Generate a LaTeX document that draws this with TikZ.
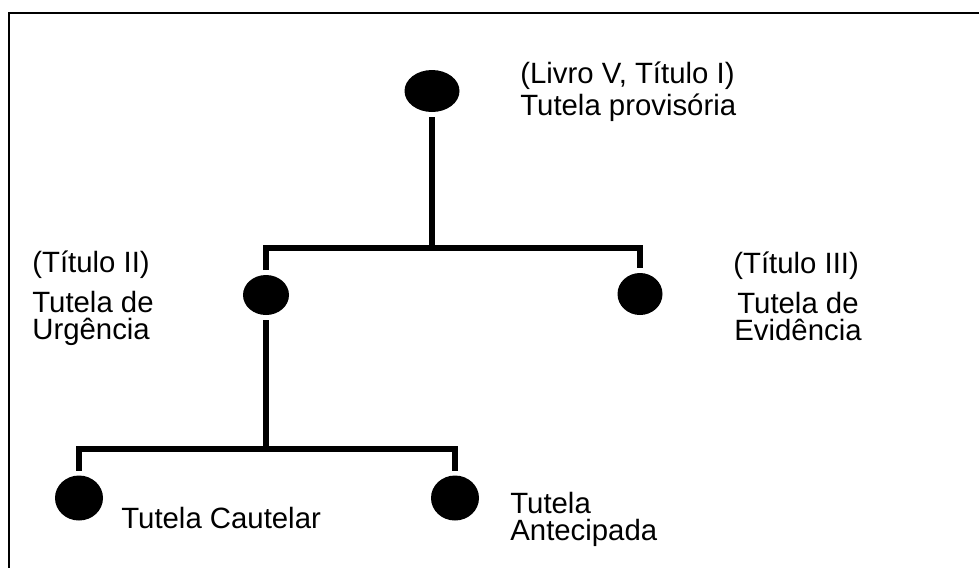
\documentclass[tikz,border=0pt]{standalone}
\usepackage{fontspec}
\setmainfont{Liberation Sans}
\usetikzlibrary{shapes.geometric}

\begin{document}
\begin{tikzpicture}[
    blob/.style={ellipse, fill=black, inner sep=0pt, outer sep=0.1cm, minimum width=0.96cm, minimum height=0.9cm},
    link/.style={line width=3.2pt},
    lbl/.style={anchor=base west, inner sep=0pt, align=left, font=\fontsize{16.7}{15.3}\selectfont}
]
%% The picture size is fixed here, so the page keeps the same proportions.
    \useasboundingbox (0,0) rectangle (19.58,-11.36);
%% Only the top and the left edge of the frame are drawn.
    \draw[line width=1.3pt] (19.58,-0.26) -- (0.18,-0.26) -- (0.18,-11.36);
%% The black dots of the tree.
    \node[blob, minimum width=1.1cm, minimum height=0.84cm] (prov) at (8.64,-1.82) {};
    \node[blob, minimum width=0.92cm, minimum height=0.8cm] (urg) at (5.32,-5.9) {};
    \node[blob, minimum width=0.9cm, minimum height=0.84cm] (evi) at (12.8,-5.88) {};
    \node[blob] (caut) at (1.58,-9.96) {};
    \node[blob] (ante) at (9.1,-9.96) {};
%% Where the branches split.
    \coordinate (split1) at (8.64,-4.96);
    \coordinate (split2) at (5.32,-8.98);
%% The branches.
    \draw[link] (prov.south) -- (prov.south |- split1);
    \draw[link] (urg.north) -- (urg.north |- split1) -- (evi.north |- split1) -- (evi.north);
    \draw[link] (urg.south) -- (urg.south |- split2);
    \draw[link] (caut.north) -- (caut.north |- split2) -- (ante.north |- split2) -- (ante.north);
%% The labels (for two lines the base is the last line).
    \node[lbl] (provhead) at (10.4,-1.66) {(Livro V, Título I)};
    \node[lbl] (provtext) at (10.4,-2.3) {Tutela provisória};
    \node[lbl] (urghead) at (0.64,-5.44) {(Título II)};
    \node[lbl] (urgtext) at (0.64,-6.78) {Tutela de\\Urgência};
    \node[lbl] (evihead) at (14.66,-5.46) {(Título III)};
    \node[lbl, align=center] (evitext) at (14.68,-6.8) {Tutela de\\Evidência};
    \node[lbl] (cauttext) at (2.42,-10.56) {Tutela Cautelar};
    \node[lbl] (antetext) at (10.2,-10.8) {Tutela\\Antecipada};
\end{tikzpicture}
\end{document}
